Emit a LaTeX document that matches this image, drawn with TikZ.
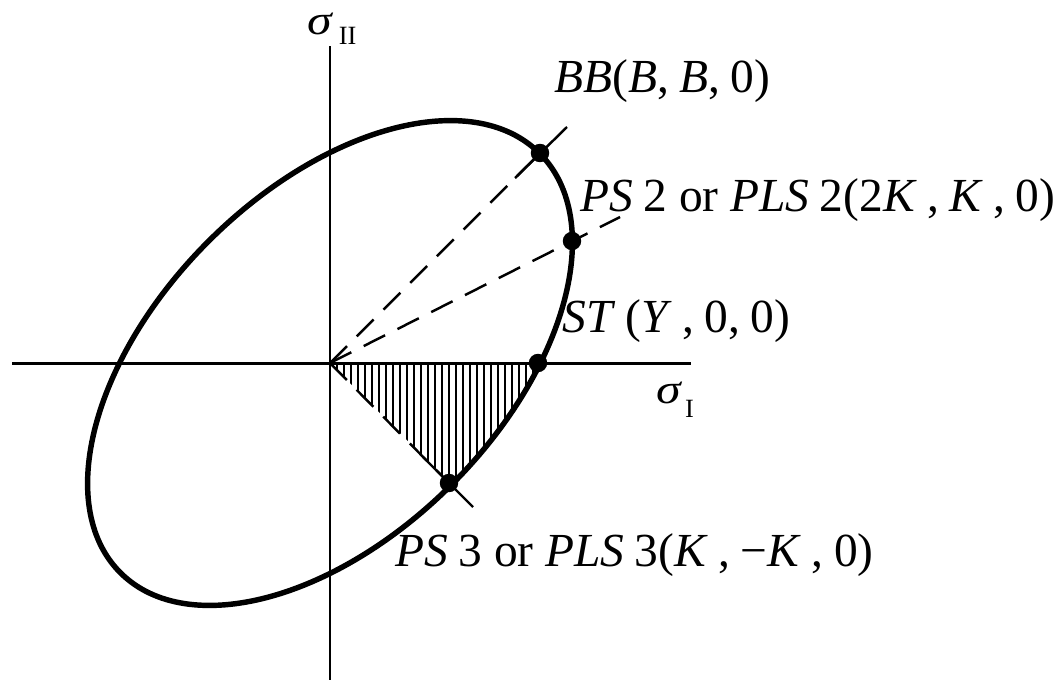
\documentclass[tikz,border=0pt]{standalone}
\usepackage{fontspec}
\setmainfont{Liberation Serif}
\newcommand{\itx}[1]{\textit{#1}}
\newcommand{\gp}{\hspace{0.22em}}
\newcommand{\sg}{\scalebox{1.05}[0.88]{\itx{σ}}}
\begin{document}
\begin{tikzpicture}[x=0.02cm,y=0.02cm,
  axis/.style={line width=1.7pt},
  curve/.style={line width=3.1pt},
  dline/.style={line width=1.4pt, dash pattern=on 13.6pt off 7.9pt},
  tick/.style={line width=1.4pt},
  hatch/.style={line width=1.05pt},
  dot/.style={circle, fill=black, inner sep=0pt, minimum size=10.5pt},
  lab/.style={anchor=base west, inner sep=0pt, font=\fontsize{27}{30}\selectfont}]
\useasboundingbox (0,0) rectangle (1058,-680);
\coordinate (O) at (330,-363);
\coordinate (xl) at (12,-363);
\coordinate (xr) at (691,-363);
\coordinate (yt) at (330,-46);
\coordinate (yb) at (330,-680);
% hatching
\begin{scope}
  \clip[rotate around={45:(O)}] (O) ellipse [x radius=296.5, y radius=172];
  \clip (O) -- ++(400,0) -- ++(0,-400) -- cycle;
  \foreach \x in {337,344,...,545} \draw[hatch] (\x,-350) -- (\x,-500);
\end{scope}
% axes
\draw[axis] (xl) -- (xr);
\draw[axis] (yt) -- (yb);
% ellipse
\draw[curve, rotate around={45:(O)}] (O) ellipse [x radius=296.5, y radius=172];
% points
\node[dot] (bb) at (540,-153) {};
\node[dot] (ps2) at (572,-241) {};
\node[dot] (st) at (538,-363) {};
\node[dot] (ps3) at (449,-483) {};
\coordinate (ps2e) at (620,-217);
% dashed lines
\draw[dline] (O) -- (bb.center);
\draw[dline] (O) -- (ps2e);
\draw[dline] (O) -- (ps3.center);
\coordinate (bb1) at (515,-178);
\coordinate (bb2) at (567,-127);
\coordinate (ps31) at (423,-457);
\coordinate (ps32) at (473,-507);
\draw[tick] (bb1) -- (bb2);
\draw[tick] (ps31) -- (ps32);
% labels
\node[lab] (lsII) at (307,-34) {\sg\hspace{3pt}\raisebox{-6pt}{\fontsize{15}{15}\selectfont II}};
\node[lab] (lsI) at (656,-403) {\sg\hspace{1.5pt}\raisebox{-8pt}{\fontsize{15}{15}\selectfont I}};
\node[lab] (lbb) at (554,-92) {\itx{BB}(\itx{B},\gp\itx{B},\gp0)};
\node[lab] (lps2) at (580,-211) {\itx{PS}\gp2 or \itx{PLS}\gp2(2\itx{K}\gp,\gp\itx{K}\gp,\gp0)};
\node[lab] (lst) at (562,-332) {\itx{ST}\gp(\itx{Y}\gp,\gp0,\gp0)};
\node[lab] (lps3) at (395,-566) {\itx{PS}\gp3 or \itx{PLS}\gp3(\itx{K}\gp,\gp−\itx{K}\gp,\gp0)};
\end{tikzpicture}
\end{document}
